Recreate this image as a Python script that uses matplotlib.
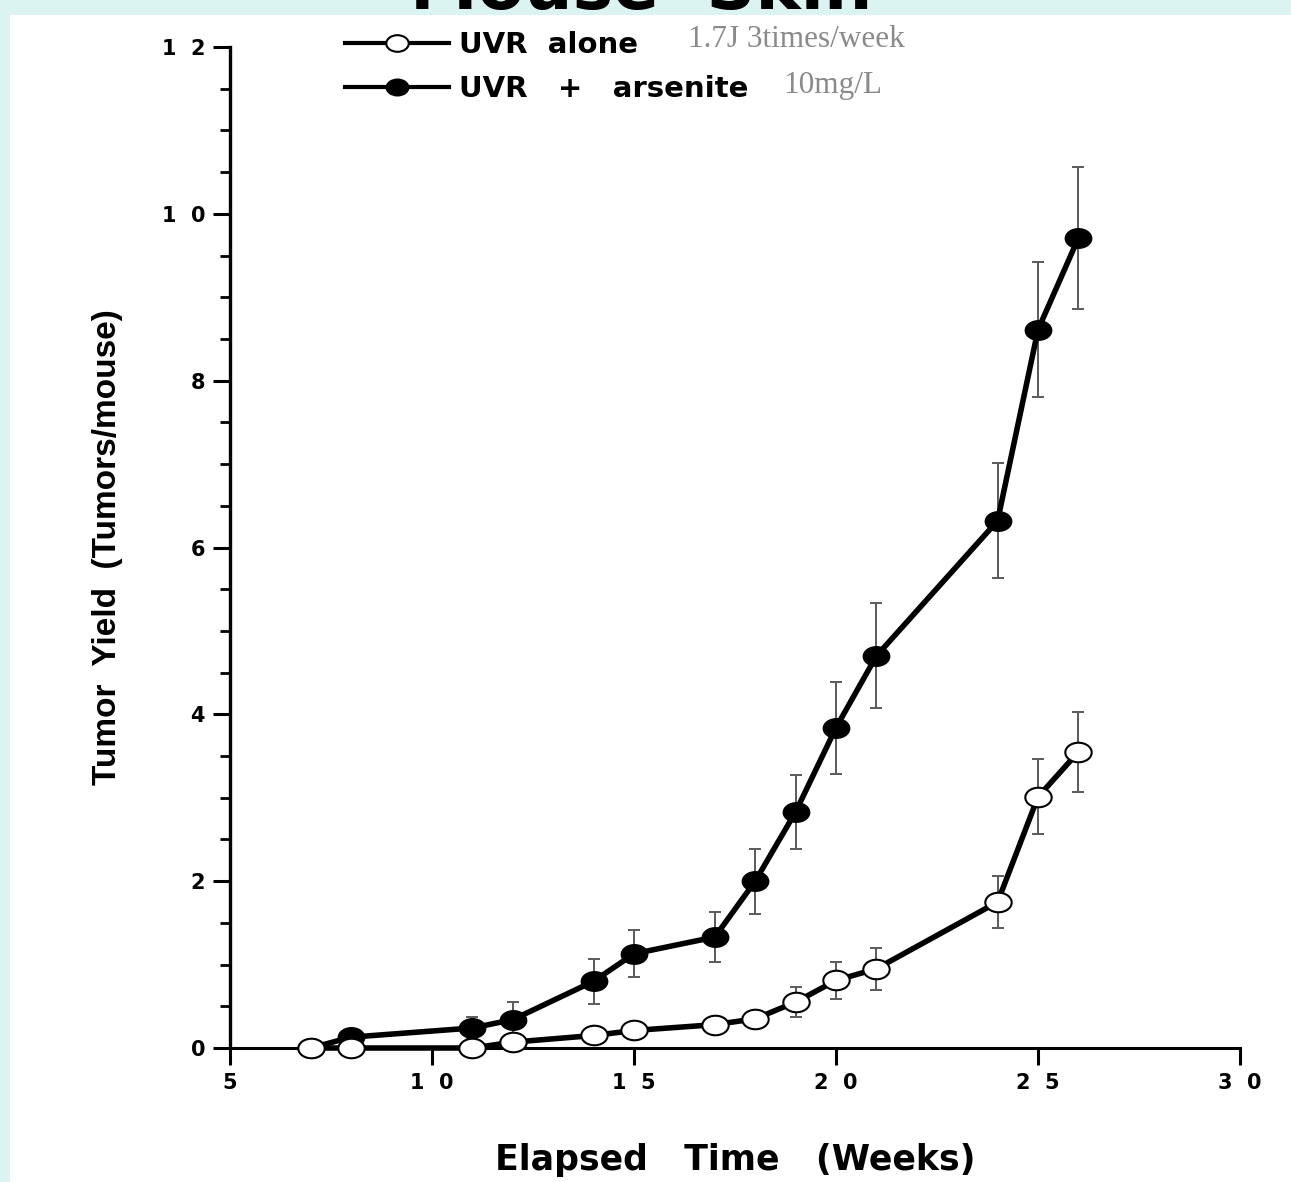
import matplotlib
matplotlib.use("Agg")
import matplotlib.pyplot as plt
from matplotlib.patches import Rectangle
from matplotlib.ticker import MultipleLocator
from matplotlib.path import Path
from matplotlib.transforms import Affine2D

weeks = [7, 8, 11, 12, 14, 15, 17, 18, 19, 20, 21, 24, 25, 26]
uvr_alone = [0.0, 0.0, 0.0, 0.07, 0.15, 0.21, 0.28, 0.35, 0.55, 0.81, 0.95, 1.75, 3.01, 3.55]
uvr_alone_err = [0, 0, 0, 0, 0, 0, 0, 0, 0.18, 0.22, 0.25, 0.31, 0.45, 0.48]
uvr_arsenite = [0.0, 0.13, 0.24, 0.34, 0.80, 1.13, 1.33, 2.00, 2.83, 3.84, 4.70, 6.32, 8.61, 9.71]
uvr_arsenite_err = [0, 0, 0.13, 0.21, 0.27, 0.28, 0.30, 0.39, 0.44, 0.55, 0.63, 0.69, 0.81, 0.85]

x_ticks = [5, 10, 15, 20, 25, 30]
x_tick_labels = ["5", "1  0", "1  5", "2  0", "2  5", "3  0"]
y_ticks = [0, 2, 4, 6, 8, 10, 12]
y_tick_labels = ["0", "2", "4", "6", "8", "1  0", "1  2"]

labels = ["UVR  alone", "UVR   +   arsenite"]
notes = ["1.7J 3times/week", "10mg/L"]
title = "Mouse  Skin"

W, H = 1291, 1182
fig = plt.figure(figsize=(W / 100, H / 100), dpi=100, facecolor="#dcf4f1")

wide = "DejaVu Sans"
narrow = "Liberation Sans"

# white panel
fig.patches.append(Rectangle((10 / W, 0), 1 - 10 / W, (H - 15) / H,
                             transform=fig.transFigure, facecolor="white",
                             edgecolor="none", zorder=-2))

# clipped title at the very top: only the bottoms of the letters show
band = fig.add_axes([0, (H - 13) / H, 1, 13 / H])
band.axis("off")
band.set_xlim(0, W)
band.set_ylim(0, 13)
band.text(641, 4, title, fontfamily=wide, fontweight="bold", fontsize=49,
          ha="center", va="baseline", color="black", clip_on=True)

ax = fig.add_axes([230 / W, (H - 1048) / H, (1240 - 230) / W, (1048 - 47) / H])
ax.set_facecolor("none")
ax.set_zorder(1)

ellipse = Path.unit_circle().transformed(Affine2D().scale(1.35, 1.0))

# error bars (behind the markers)
ax.errorbar(weeks, uvr_arsenite, yerr=uvr_arsenite_err, fmt="none",
            ecolor="#5a5a5a", elinewidth=1.4, capsize=4, capthick=1.4, zorder=2)
ax.errorbar(weeks, uvr_alone, yerr=uvr_alone_err, fmt="none",
            ecolor="#5a5a5a", elinewidth=1.4, capsize=4, capthick=1.4, zorder=2)

l2, = ax.plot(weeks, uvr_arsenite, color="black", lw=4, marker=ellipse,
              markersize=19, markerfacecolor="black", markeredgecolor="black",
              zorder=3, clip_on=False)
l1, = ax.plot(weeks, uvr_alone, color="black", lw=4, marker=ellipse,
              markersize=19, markerfacecolor="white", markeredgecolor="black",
              markeredgewidth=1.5, zorder=4, clip_on=False)

ax.set_xlim(5, 30)
ax.set_ylim(0, 12)

for s in ["top", "right"]:
    ax.spines[s].set_visible(False)
ax.spines["left"].set_linewidth(2.4)
ax.spines["bottom"].set_linewidth(2.2)

ax.set_xticks(x_ticks)
ax.set_xticklabels(x_tick_labels)
ax.set_yticks(y_ticks)
ax.set_yticklabels(y_tick_labels)
ax.yaxis.set_minor_locator(MultipleLocator(0.5))
ax.tick_params(axis="both", which="major", direction="out", length=12, width=2.2,
               labelsize=15, pad=6)
ax.tick_params(axis="y", which="minor", direction="out", length=7, width=2)
for lab in ax.get_xticklabels() + ax.get_yticklabels():
    lab.set_fontfamily(wide)
    lab.set_fontweight("bold")

ax.set_xlabel("Elapsed   Time   (Weeks)", fontfamily=wide, fontweight="bold",
              fontsize=25, labelpad=36)
ax.set_ylabel("Tumor  Yield  (Tumors/mouse)", fontfamily=narrow, fontweight="bold",
              fontsize=24, labelpad=28)

leg = ax.legend([l1, l2], labels, loc="upper left",
                bbox_to_anchor=(345 / W, (H - 31) / H), bbox_transform=fig.transFigure,
                frameon=False, handlelength=3.55, handletextpad=0.35,
                labelspacing=0.55, borderpad=0, borderaxespad=0, markerscale=0.85,
                prop={"family": wide, "weight": "bold", "size": 21})
for ln in leg.get_lines():
    ln.set_linewidth(3)

fig.text(688 / W, (H - 47) / H, notes[0], fontfamily="Liberation Serif",
         fontsize=22.5, color="#8a8a8a", va="baseline", ha="left")
fig.text(783 / W, (H - 93) / H, notes[1], fontfamily="Liberation Serif",
         fontsize=22.5, color="#8a8a8a", va="baseline", ha="left")

fig.savefig("out.png", dpi=100, facecolor=fig.get_facecolor())
